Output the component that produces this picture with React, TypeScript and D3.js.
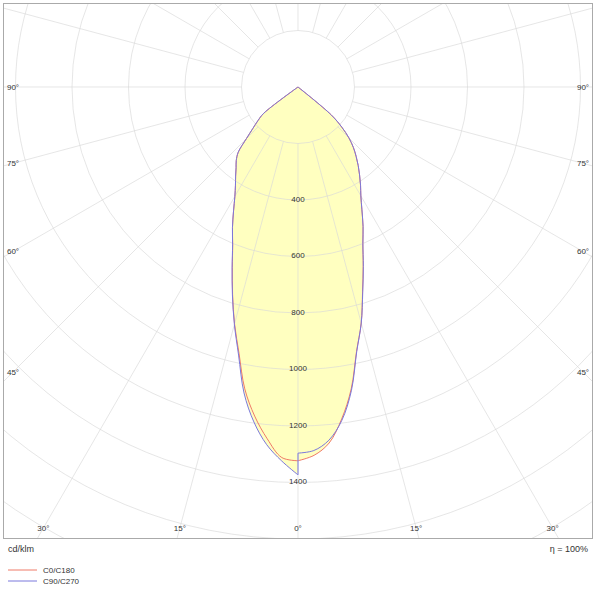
import React, { useEffect, useRef } from "react"
import * as d3 from "d3"

// gamma angles (deg from nadir) that the intensity values are read at
const gammas = [0, 2.5, 5, 7.5, 10, 12.5, 15, 17.5, 20, 22.5, 25, 27.5, 30, 32.5, 35, 37.5, 40, 42.5, 45, 47.5, 50, 52.5, 55]

// cd/klm, right half of the diagram
const c0 = [1323, 1305, 1265, 1185, 1085, 958, 865, 760, 675, 600, 545, 490, 445, 412, 380, 350, 320, 290, 255, 210, 155, 0, 0]
const c90 = [1296, 1288, 1255, 1190, 1090, 960, 865, 762, 676, 600, 545, 490, 445, 412, 380, 350, 320, 290, 255, 210, 152, 0, 0]
// left half
const c180 = [1323, 1313, 1250, 1175, 1085, 965, 868, 770, 680, 604, 549, 494, 447, 412, 385, 360, 340, 313, 258, 216, 185, 153, 0]
const c270 = [1373, 1325, 1271, 1196, 1100, 972, 870, 772, 682, 605, 549, 494, 447, 412, 385, 360, 340, 313, 258, 216, 185, 153, 0]

const ringValues = [200, 400, 600, 800, 1000, 1200, 1400, 1600, 1800, 2000]
const ringLabels = [400, 600, 800, 1000, 1200, 1400]
const spokeAngles = d3.range(0, 360, 15)
const sideLabels = [45, 60, 75, 90]
const bottomLabels = [0, 15, 30]

const legendItems = [
	{ name: "C0/C180", color: "#ef7a68" },
	{ name: "C90/C270", color: "#7a78dc" },
]

const App: React.FC = () => {
	const ref = useRef<SVGSVGElement>(null)

	useEffect(() => {
		const svg = d3.select(ref.current)
		svg.selectAll("*").remove()

		// frame of the polar plot
		const frame = { x0: 3.5, y0: 3.5, x1: 592.5, y1: 538.5 }
		const ox = 298
		const oy = 87
		const font = "'Liberation Sans', Arial, sans-serif"

		const r = d3.scaleLinear().domain([0, 1000]).range([0, 282.5])

		// gamma 0 points down, side -1 = left half, 1 = right half
		const pt = (g: number, v: number, side: number): [number, number] => {
			const a = (g * Math.PI) / 180
			return [ox + side * r(v) * Math.sin(a), oy + r(v) * Math.cos(a)]
		}

		svg.append("defs")
			.append("clipPath")
			.attr("id", "frameClip")
			.append("rect")
			.attr("x", frame.x0)
			.attr("y", frame.y0)
			.attr("width", frame.x1 - frame.x0)
			.attr("height", frame.y1 - frame.y0)

		const plot = svg.append("g").attr("clip-path", "url(#frameClip)")

		const line = d3.line().curve(d3.curveCatmullRom.alpha(0.5))

		/* each half is smoothed on its own so the tip at the origin stays pointed */
		function half(values: number[], side: number) {
			const pts: [number, number][] = []
			for (let i = 0; i < gammas.length; i++) {
				pts.push(pt(gammas[i], values[i], side))
				if (values[i] === 0) break
			}
			return pts
		}

		function outline(left: number[], right: number[]) {
			const l = line(half(left, -1)) as string
			const rr = line(half(right, 1).reverse()) as string
			return l + "L" + rr.slice(1) + "Z"
		}

		const curves = [
			{ d: outline(c180, c0), color: legendItems[0].color },
			{ d: outline(c270, c90), color: legendItems[1].color },
		]

		// yellow fill under both curves
		plot.selectAll(".fill")
			.data(curves)
			.join("path")
			.attr("class", "fill")
			.attr("d", (d) => d.d)
			.attr("fill", "#ffffc0")
			.attr("stroke", "none")

		/* *********** GRID *********** */
		plot.selectAll(".ring")
			.data(ringValues)
			.join("circle")
			.attr("class", "ring")
			.attr("cx", ox)
			.attr("cy", oy)
			.attr("r", (d) => r(d))
			.attr("fill", "none")
			.attr("stroke", "#d9d9d9")
			.attr("stroke-opacity", 0.65)

		plot.selectAll(".spoke")
			.data(spokeAngles)
			.join("line")
			.attr("class", "spoke")
			.attr("x1", (d) => pt(d, 200, 1)[0])
			.attr("y1", (d) => pt(d, 200, 1)[1])
			.attr("x2", (d) => pt(d, 2400, 1)[0])
			.attr("y2", (d) => pt(d, 2400, 1)[1])
			.attr("stroke", "#d9d9d9")
			.attr("stroke-opacity", 0.65)

		// curve outlines
		plot.selectAll(".curve")
			.data(curves)
			.join("path")
			.attr("class", "curve")
			.attr("d", (d) => d.d)
			.attr("fill", "none")
			.attr("stroke", (d) => d.color)
			.attr("stroke-width", 1)
			.attr("stroke-linejoin", "round")

		/* *********** LABELS *********** */
		plot.selectAll(".ringLabel")
			.data(ringLabels)
			.join("text")
			.attr("class", "ringLabel")
			.attr("x", ox)
			.attr("y", (d) => oy + r(d) - 1)
			.attr("dy", "0.35em")
			.attr("text-anchor", "middle")
			.style("font-family", font)
			.style("font-size", "8px")
			.attr("fill", "#333")
			.text((d) => d)

		const angleLabels: { x: number; y: number; t: string }[] = []
		sideLabels.forEach((g) => {
			const a = (g * Math.PI) / 180
			const dy = g === 90 ? 0 : (ox - 13) / Math.tan(a)
			angleLabels.push({ x: 13, y: oy + dy, t: g + "°" })
			angleLabels.push({ x: 583, y: oy + dy, t: g + "°" })
		})
		bottomLabels.forEach((g) => {
			const dx = (528 - oy) * Math.tan((g * Math.PI) / 180)
			angleLabels.push({ x: ox - dx, y: 528, t: g + "°" })
			if (g > 0) angleLabels.push({ x: ox + dx, y: 528, t: g + "°" })
		})

		svg.selectAll(".angleLabel")
			.data(angleLabels)
			.join("text")
			.attr("class", "angleLabel")
			.attr("x", (d) => d.x)
			.attr("y", (d) => d.y)
			.attr("dy", "0.35em")
			.attr("text-anchor", "middle")
			.style("font-family", font)
			.style("font-size", "8px")
			.attr("fill", "#333")
			.text((d) => d.t)

		svg.append("rect")
			.attr("x", frame.x0)
			.attr("y", frame.y0)
			.attr("width", frame.x1 - frame.x0)
			.attr("height", frame.y1 - frame.y0)
			.attr("fill", "none")
			.attr("stroke", "#aaa")

		svg.append("text")
			.attr("x", 8)
			.attr("y", 552)
			.style("font-family", font)
			.style("font-size", "9px")
			.attr("fill", "#333")
			.text("cd/klm")

		svg.append("text")
			.attr("x", 588)
			.attr("y", 552)
			.attr("text-anchor", "end")
			.style("font-family", font)
			.style("font-size", "9px")
			.attr("fill", "#333")
			.text("η = 100%")

		const legend = svg
			.selectAll(".legend")
			.data(legendItems)
			.join("g")
			.attr("class", "legend")
			.attr("transform", (d, i) => `translate(8,${570 + i * 11})`)
		legend
			.append("line")
			.attr("x1", 0)
			.attr("x2", 29)
			.attr("stroke", (d) => d.color)
		legend
			.append("text")
			.attr("x", 35)
			.attr("dy", "0.35em")
			.style("font-family", font)
			.style("font-size", "8px")
			.attr("fill", "#333")
			.text((d) => d.name)
	}, [])

	return (
		<svg
			ref={ref}
			width={600}
			height={593}
			style={{ position: "absolute", left: 0, top: 0, background: "#fff" }}
		/>
	)
}

export default App
